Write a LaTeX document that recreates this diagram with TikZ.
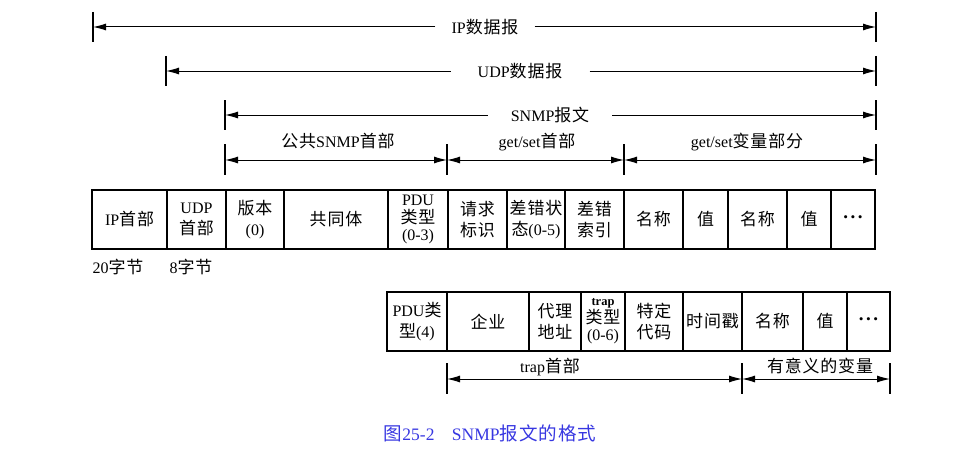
\documentclass[tikz,border=0pt]{standalone}
\usepackage{fontspec}
\setmainfont{Liberation Serif}
\newfontfamily\zhfont[LetterSpace=5,Scale=1.06]{Noto Sans CJK SC}
\newcommand\zh[1]{{\zhfont #1}}
\newcommand\mydots{\raisebox{4pt}{{\fontsize{19}{19}\selectfont\bfseries .\kern2.5pt.\kern2.5pt.}}}
\usetikzlibrary{arrows.meta}
\definecolor{capblue}{RGB}{55,55,225}
\newcommand\fld[7][]{\node[fld,#1,minimum width={(#4-#3)*1pt},minimum height={(#6-#5)*1pt}] (#2) at ({(#3+#4)/2},{(#5+#6)/2}) {#7};}
\begin{document}
\begin{tikzpicture}[x=1pt,y=-1pt,
  fld/.style={draw,line width=1.1pt,inner sep=0pt,align=center,font=\fontsize{16}{21.5}\selectfont},
  tight/.style={font=\fontsize{16}{17.5}\selectfont},
  txt/.style={inner sep=0pt,font=\fontsize{16}{18}\selectfont},
  gap/.style={txt,inner ysep=2pt},
  tick/.style={line width=1.1pt},
  arr/.style={-{Latex[length=13pt,width=7pt]},line width=1pt},
  arrs/.style={{Latex[length=13pt,width=7pt]}-{Latex[length=13pt,width=7pt]},line width=1pt}]
\useasboundingbox (0,0) rectangle (965,460);

% ---- main message row ----
\fld{ip}{92}{167}{190}{249}{IP\zh{首部}}
\fld{udp}{167}{226}{190}{249}{UDP\\\zh{首部}}
\fld{ver}{226}{284}{190}{249}{\zh{版本}\\(0)}
\fld{com}{284}{388}{190}{249}{\zh{共同体}}
\fld[tight]{pdu}{388}{448}{190}{249}{PDU\\\zh{类型}\\(0-3)}
\fld{req}{448}{507}{190}{249}{\zh{请求}\\\zh{标识}}
\fld{est}{507}{565}{190}{249}{\zh{差错状}\\\zh{态}(0-5)}
\fld{eix}{565}{624}{190}{249}{\zh{差错}\\\zh{索引}}
\fld{na}{624}{683}{190}{249}{\zh{名称}}
\fld{va}{683}{728}{190}{249}{\zh{值}}
\fld{nb}{728}{787}{190}{249}{\raisebox{3pt}{\zh{名称}}}
\fld{vb}{787}{831}{190}{249}{\zh{值}}
\fld{dt}{831}{875}{190}{249}{\mydots}

\node[txt] (b20) at (118,267) {20\zh{字节}};
\node[txt] (b8) at (191,267) {8\zh{字节}};

% ---- trap row ----
\fld{tpdu}{387}{447}{292}{351}{PDU\zh{类}\\\zh{型}(4)}
\fld{ent}{447}{529}{292}{351}{\zh{企业}}
\fld{agt}{529}{581}{292}{351}{\zh{代理}\\\zh{地址}}
\fld[tight]{ttp}{581}{625}{292}{351}{{\fontsize{12.5}{12.5}\selectfont\bfseries trap}\\\zh{类型}\\(0-6)}
\fld{spc}{625}{683}{292}{351}{\zh{特定}\\\zh{代码}}
\fld{tim}{683}{742}{292}{351}{\zh{时间戳}}
\fld{nc}{742}{803}{292}{351}{\zh{名称}}
\fld{vc}{803}{847}{292}{351}{\raisebox{2pt}{\zh{值}}}
\fld{dc}{847}{890}{292}{351}{\mydots}

% ---- dimension coordinates ----
\coordinate (L1) at (93,27);  \coordinate (R1) at (876,27);
\coordinate (L2) at (166,71); \coordinate (R2) at (876,71);
\coordinate (L3) at (225,115);\coordinate (R3) at (876,115);
\coordinate (L4) at (225,160);\coordinate (M4) at (447,160);
\coordinate (N4) at (624,160);\coordinate (R4) at (876,160);
\coordinate (L5) at (447,379);\coordinate (M5) at (742,379);
\coordinate (R5) at (890,379);

\foreach \c in {L1,R1,L2,R2,L3,R3}
  \draw[tick] (\c) ++(0,-15) -- ++(0,30);
\foreach \c in {L4,M4,N4,R4,L5,M5,R5}
  \draw[tick] (\c) ++(0,-16) -- ++(0,31);

% ---- labels in the lines ----
\node[gap,inner xsep=16pt] (t1) at (485,27) {IP\zh{数据报}};
\node[gap,inner xsep=27pt] (t2) at (520,71) {UDP\zh{数据报}};
\node[gap,inner xsep=23pt] (t3) at (550,115) {SNMP\zh{报文}};
\draw[arr] (t1.west) -- (L1); \draw[arr] (t1.east) -- (R1);
\draw[arr] (t2.west) -- (L2); \draw[arr] (t2.east) -- (R2);
\draw[arr] (t3.west) -- (L3); \draw[arr] (t3.east) -- (R3);

\draw[arrs] (L4) -- (M4);
\draw[arrs] (M4) -- (N4);
\draw[arrs] (N4) -- (R4);
\node[txt] (h1) at (338,141) {\zh{公共}SNMP\zh{首部}};
\node[txt] (h2) at (537,142) {get/set\zh{首部}};
\node[txt] (h3) at (747,142) {get/set\zh{变量部分}};

\draw[arrs] (L5) -- (M5);
\draw[arrs] (M5) -- (R5);
\node[txt] (h4) at (550,367) {trap\zh{首部}};
\node[txt] (h5) at (820,366) {\zh{有意义的变量}};

% ---- caption ----
\node[inner sep=0pt,text=capblue,font=\fontsize{17.5}{20}\selectfont] (cap) at (490,433)
  {\zh{图}25-2\hspace{1em}SNMP\zh{报文的格式}};
\end{tikzpicture}
\end{document}
